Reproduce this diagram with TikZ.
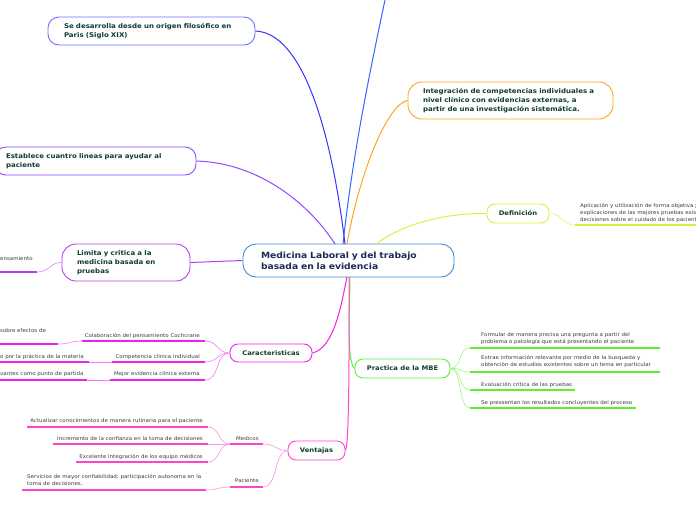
\documentclass[tikz,border=0pt]{standalone}
\usepackage{fontspec}
\setmainfont[FakeStretch=1.08]{DejaVu Sans}
\definecolor{cblue}{HTML}{3A8FD8}
\definecolor{ctext}{HTML}{0F3D30}
\definecolor{cnavy}{HTML}{1C2A55}
\definecolor{leaftxt}{HTML}{3A3A3A}
\definecolor{corig}{HTML}{3333FF}
\definecolor{corigbox}{HTML}{6F6FFF}
\definecolor{ctop}{HTML}{3366FF}
\definecolor{corange}{HTML}{FFA41F}
\definecolor{cpurple}{HTML}{8A4CFF}
\definecolor{cviolet}{HTML}{B040F0}
\definecolor{cyel}{HTML}{D8F040}
\definecolor{cmag}{HTML}{EE22EE}
\definecolor{cgreen}{HTML}{5CF033}
\definecolor{cpink}{HTML}{FF44CC}
\tikzset{
  box/.style={draw, line width=0.9pt, rounded corners=11pt, fill=white, align=left, inner ysep=0pt, text=ctext, font=\bfseries\fontsize{6.5}{9}\selectfont},
  cbox/.style={draw, line width=0.9pt, rounded corners=8pt, fill=white, align=center, inner sep=0pt, text=ctext, font=\bfseries\fontsize{6.3}{9}\selectfont},
  edge/.style={line width=1pt},
  ledge/.style={line width=0.6pt},
  ul/.style={line width=1.6pt},
  leaf/.style={inner sep=0pt, text=leaftxt, font=\fontsize{5.1}{7}\selectfont, align=left},
}
\begin{document}
\begin{tikzpicture}[x=1pt,y=-1pt]
\useasboundingbox (0,0) rectangle (696,520);
\clip (0,0) rectangle (696,520);

\coordinate (topend) at (385,0);
\coordinate (cA) at (345,244);
\coordinate (cTop) at (343,244);
\coordinate (cOr) at (347,244);
\coordinate (cPu) at (335,244);
\coordinate (cYe) at (376,244);
\coordinate (cBm) at (347,277);
\coordinate (cBg) at (350,277);
\coordinate (cBp) at (349,277);

% ---------- boxes ----------
\node[box, draw=cblue, text=cnavy, font=\bfseries\fontsize{8.5}{11}\selectfont, minimum width=211pt, minimum height=33pt, text width=175pt, inner xsep=18pt, rounded corners=13pt] (center) at (348.5,260.5) {\mbox{Medicina Laboral y del trabajo}\\\mbox{basada en la evidencia}};

\node[box, draw=corigbox, minimum width=207pt, minimum height=28pt, text width=175pt, inner xsep=16pt] (orig) at (151.5,31) {Se desarrolla desde un origen filosófico en\\Paris (Siglo XIX)};

\node[box, draw=corange, minimum width=205pt, minimum height=37pt, text width=175pt, inner xsep=15pt, rounded corners=14pt] (integ) at (510.5,100.5) {Integración de competencias individuales a\\nivel clínico con evidencias externas, a\\partir de una investigación sistemática.};

\node[box, draw=cpurple, minimum width=201pt, minimum height=28pt, text width=179pt, inner xsep=11pt] (estab) at (95.5,161) {Establece cuantro lineas para ayudar al\\paciente};

\node[box, draw=cviolet, minimum width=128pt, minimum height=37pt, text width=98pt, inner xsep=15pt, rounded corners=14pt] (limita) at (126,262.5) {Limita y critica a la\\medicina basada en\\pruebas};

\node[cbox, draw=cyel, minimum width=62pt, minimum height=19pt] (defin) at (518,213.5) {Definición};
\node[cbox, draw=cmag, minimum width=82pt, minimum height=18pt] (carac) at (271,353) {Caracteristicas};
\node[cbox, draw=cgreen, minimum width=95pt, minimum height=19pt] (pmbe) at (402.5,368.5) {Practica de la MBE};
\node[cbox, draw=cpink, minimum width=57pt, minimum height=19pt] (vent) at (316.5,450.5) {Ventajas};

% ---------- main connectors ----------
\draw[edge, corig] (orig.east) .. controls (300,33) and (330,120) .. (cA);
\draw[edge, ctop] (cTop) .. controls (352,160) and (368,80) .. (topend);
\draw[edge, corange] (integ.west) .. controls (388,104) and (360,170) .. (cOr);
\draw[edge, cpurple] (estab.east) .. controls (260,163) and (310,205) .. (cPu);
\draw[edge, cviolet] (center.west) -- (limita.east);
\draw[edge, cyel] (defin.west) .. controls (440,213) and (400,226) .. (cYe);
\draw[edge, cmag] (carac.east) .. controls (335,348) and (342,300) .. (cBm);
\draw[edge, cgreen] (pmbe.west) .. controls (346,362) and (350,300) .. (cBg);
\draw[edge, cpink] (vent.east) .. controls (350,445) and (349,300) .. (cBp);

% ---------- Definicion leaf ----------
\coordinate (dA) at (575,225);
\coordinate (dB) at (696,225);
\draw[ul, cyel] (dA) -- (dB);
\draw[ledge, cyel!70] (defin.east) .. controls (562,213) and (562,225) .. (dA);
\node[leaf, anchor=north west] (dtxt) at (580,203.5) {Aplicación y utilización de forma objetiva j\\explicaciones de las mejores pruebas exis\\decisiones sobre el cuidado de los pacient};

% ---------- Limita leaf ----------
\coordinate (lA) at (0,272);
\coordinate (lB) at (37,272);
\draw[ul, cviolet] (lA) -- (lB);
\draw[ledge, cviolet!60] (limita.west) .. controls (50,262) and (50,272) .. (lB);
\node[leaf, anchor=base west] (ltxt) at (0,260.5) {ensamiento};

% ---------- Caracteristicas leaves ----------
\coordinate (k1a) at (82,341);  \coordinate (k1b) at (205,341);
\coordinate (k2a) at (112,362); \coordinate (k2b) at (205,362);
\coordinate (k3a) at (110,380); \coordinate (k3b) at (205,380);
\draw[ul, cmag] (k1a) -- (k1b);
\draw[ul, cmag] (k2a) -- (k2b);
\draw[ul, cmag] (k3a) -- (k3b);
\draw[ledge, cmag!60] (carac.west) .. controls (217,353) and (218,341) .. (k1b);
\draw[ledge, cmag!60] (carac.west) .. controls (217,353) and (218,362) .. (k2b);
\draw[ledge, cmag!60] (carac.west) .. controls (215,353) and (220,380) .. (k3b);
\node[leaf, anchor=base east] (k1t) at (200,337.5) {Colaboración del pensamiento Cochcrane};
\node[leaf, anchor=base east] (k2t) at (200,358) {Competencia clínica individual};
\node[leaf, anchor=base east] (k3t) at (200,375.5) {Mejor evidencia clínica externa};

\coordinate (k1c) at (0,344);  \coordinate (k1d) at (58,344);
\coordinate (k2c) at (0,362);  \coordinate (k2d) at (89,362);
\coordinate (k3c) at (0,380);  \coordinate (k3d) at (87,380);
\draw[ul, cmag] (k1c) -- (k1d);
\draw[ul, cmag] (k2c) -- (k2d);
\draw[ul, cmag] (k3c) -- (k3d);
\draw[ledge, cmag!60] (k1a) .. controls (70,341) and (70,344) .. (k1d);
\draw[ledge, cmag!60] (k2a) -- (k2d);
\draw[ledge, cmag!60] (k3a) -- (k3d);
\node[leaf, anchor=base west] (k1s) at (0,332) {sobre efectos de};
\node[leaf, anchor=base west] (k2s) at (0,358) {o por la práctica de la materia};
\node[leaf, anchor=base west] (k3s) at (0,375.5) {vantes como punto de partida};

% ---------- Practica leaves ----------
\coordinate (p1a) at (470,348); \coordinate (p1b) at (660,348);
\coordinate (p2a) at (470,372); \coordinate (p2b) at (660,372);
\coordinate (p3a) at (470,390); \coordinate (p3b) at (575,390);
\coordinate (p4a) at (470,408); \coordinate (p4b) at (636,408);
\draw[ul, cgreen] (p1a) -- (p1b);
\draw[ul, cgreen] (p2a) -- (p2b);
\draw[ul, cgreen] (p3a) -- (p3b);
\draw[ul, cgreen] (p4a) -- (p4b);
\draw[ledge, cgreen!60] (pmbe.east) .. controls (462,368) and (458,348) .. (p1a);
\draw[ledge, cgreen!60] (pmbe.east) .. controls (462,368) and (460,372) .. (p2a);
\draw[ledge, cgreen!60] (pmbe.east) .. controls (462,368) and (458,390) .. (p3a);
\draw[ledge, cgreen!60] (pmbe.east) .. controls (462,368) and (458,408) .. (p4a);
\node[leaf, anchor=north west] (p1t) at (481,332) {Formular de manera precisa una pregunta a partir del\\problema o patología que está presentando el paciente};
\node[leaf, anchor=north west] (p2t) at (481,355.5) {Extrae información relevante por medio de la busqueda y\\obtención de estudios existentes sobre un tema en particular};
\node[leaf, anchor=base west] (p3t) at (481,386) {Evaluación crítica de las pruebas};
\node[leaf, anchor=base west] (p4t) at (481,404) {Se pressentan los resultados concluyentes del proceso};

% ---------- Ventajas leaves ----------
\coordinate (mA) at (230,444); \coordinate (mB) at (263,444);
\coordinate (pA) at (230,487); \coordinate (pB) at (263,487);
\draw[ul, cpink] (mA) -- (mB);
\draw[ul, cpink] (pA) -- (pB);
\draw[ledge, cpink!60] (vent.west) .. controls (276,451) and (276,444) .. (mB);
\draw[ledge, cpink!60] (vent.west) .. controls (274,451) and (278,487) .. (pB);
\node[leaf, anchor=base west] (medt) at (236,440.5) {Medicos};
\node[leaf, anchor=base west] (pact) at (235,482.5) {Paciente};

\coordinate (v1a) at (27,427); \coordinate (v1b) at (208,427);
\coordinate (v2a) at (53,444); \coordinate (v2b) at (208,444);
\coordinate (v3a) at (76,462); \coordinate (v3b) at (208,462);
\coordinate (v4a) at (22,490); \coordinate (v4b) at (206,490);
\draw[ul, cpink] (v1a) -- (v1b);
\draw[ul, cpink] (v2a) -- (v2b);
\draw[ul, cpink] (v3a) -- (v3b);
\draw[ul, cpink] (v4a) -- (v4b);
\draw[ledge, cpink!60] (mA) .. controls (218,444) and (220,427) .. (v1b);
\draw[ledge, cpink!60] (mA) -- (v2b);
\draw[ledge, cpink!60] (mA) .. controls (218,444) and (220,462) .. (v3b);
\draw[ledge, cpink!60] (pA) .. controls (218,487) and (218,490) .. (v4b);
\node[leaf, anchor=base east] (v1t) at (203,422.5) {Actualizar conocimientos de manera rutinaria para el paciente};
\node[leaf, anchor=base east] (v2t) at (203,440.5) {Incremento de la confianza en la toma de decisiones};
\node[leaf, anchor=base east] (v3t) at (203,458) {Excelente integración de los equipo médicos};
\node[leaf, anchor=north west] (v4t) at (27,474) {Servicios de mayor confiabilidad; participación autonoma en la\\toma de decisiones.};
\end{tikzpicture}
\end{document}
